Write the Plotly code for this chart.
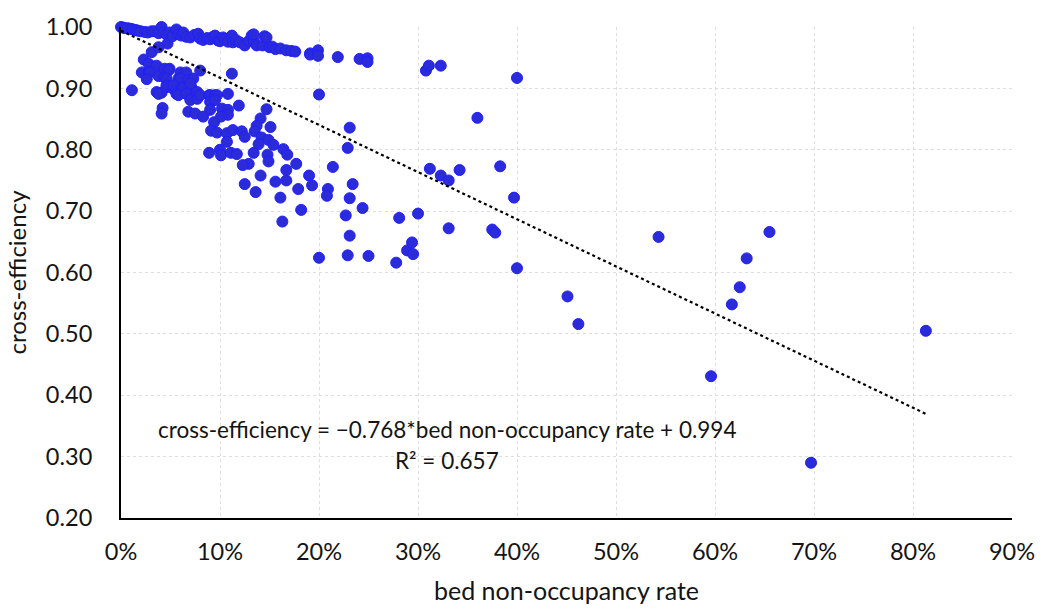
import plotly.graph_objects as go

# bed non-occupancy rate (fraction) and cross-efficiency for each hospital
bed_nonocc = [
    0.000, 0.002, 0.004, 0.007, 0.010, 0.012, 0.015, 0.017, 0.020, 0.024, 0.027, 0.031, 0.034,
    0.038, 0.041, 0.043, 0.046, 0.049, 0.047, 0.052, 0.056, 0.058, 0.061, 0.063, 0.066, 0.070,
    0.074, 0.078, 0.080, 0.083, 0.087, 0.090, 0.093, 0.095, 0.098, 0.100, 0.103, 0.105, 0.108,
    0.112, 0.113, 0.116, 0.120, 0.125, 0.129, 0.132, 0.134, 0.134, 0.137, 0.143, 0.145, 0.147,
    0.150, 0.153, 0.156, 0.161, 0.167, 0.172, 0.176, 0.191, 0.191, 0.199, 0.199, 0.219, 0.241,
    0.249, 0.249, 0.308, 0.311, 0.323, 0.400, 0.031, 0.038,
    0.023, 0.028, 0.036, 0.021, 0.028, 0.029, 0.026, 0.038, 0.044, 0.049, 0.048, 0.044, 0.046,
    0.058, 0.060, 0.066, 0.060, 0.068, 0.073, 0.080, 0.112, 0.046, 0.046, 0.053, 0.053, 0.061,
    0.063, 0.071, 0.070, 0.036, 0.041, 0.038, 0.056, 0.058, 0.066, 0.076, 0.077, 0.070, 0.077,
    0.011, 0.108, 0.080, 0.089, 0.090, 0.095, 0.097, 0.090, 0.095, 0.119, 0.042, 0.041, 0.068,
    0.075, 0.083, 0.090, 0.102, 0.108, 0.108, 0.101, 0.147, 0.094, 0.141, 0.137, 0.151, 0.091,
    0.097, 0.107, 0.113, 0.122, 0.125, 0.135, 0.107, 0.142, 0.149, 0.139, 0.154, 0.164, 0.168,
    0.089, 0.100, 0.101, 0.111, 0.117, 0.134, 0.148, 0.149, 0.129, 0.123, 0.177, 0.214, 0.229,
    0.231, 0.200, 0.167, 0.141, 0.167, 0.156, 0.190, 0.125, 0.136, 0.179, 0.193, 0.209, 0.234,
    0.161, 0.208, 0.231, 0.182, 0.163, 0.200, 0.227, 0.244, 0.281, 0.300, 0.231, 0.229, 0.250,
    0.278, 0.289, 0.294, 0.295, 0.331, 0.375, 0.378, 0.400, 0.451, 0.462, 0.543, 0.596, 0.617,
    0.625, 0.632, 0.655, 0.697, 0.813, 0.360, 0.312, 0.323, 0.331, 0.342, 0.383, 0.397,
]
cross_eff = [
    1.000, 0.999, 0.998, 0.998, 0.997, 0.996, 0.995, 0.994, 0.993, 0.992, 0.991, 0.993, 0.993,
    0.990, 1.000, 0.991, 0.988, 0.991, 0.973, 0.985, 0.996, 0.988, 0.986, 0.991, 0.984, 0.983,
    0.987, 0.989, 0.981, 0.979, 0.982, 0.980, 0.984, 0.986, 0.978, 0.977, 0.983, 0.980, 0.976,
    0.986, 0.975, 0.979, 0.975, 0.970, 0.977, 0.986, 0.978, 0.988, 0.970, 0.970, 0.985, 0.983,
    0.967, 0.968, 0.964, 0.965, 0.962, 0.961, 0.960, 0.957, 0.955, 0.962, 0.953, 0.951, 0.948,
    0.949, 0.943, 0.929, 0.937, 0.937, 0.917, 0.959, 0.967,
    0.947, 0.940, 0.937, 0.926, 0.926, 0.926, 0.915, 0.920, 0.932, 0.932, 0.929, 0.918, 0.916,
    0.916, 0.926, 0.926, 0.916, 0.913, 0.916, 0.929, 0.924, 0.905, 0.902, 0.899, 0.905, 0.900,
    0.901, 0.902, 0.908, 0.894, 0.893, 0.891, 0.891, 0.889, 0.891, 0.893, 0.894, 0.881, 0.883,
    0.897, 0.891, 0.889, 0.889, 0.889, 0.889, 0.889, 0.878, 0.881, 0.872, 0.868, 0.859, 0.862,
    0.859, 0.854, 0.865, 0.867, 0.865, 0.857, 0.854, 0.866, 0.845, 0.851, 0.839, 0.837, 0.831,
    0.828, 0.827, 0.832, 0.830, 0.821, 0.830, 0.813, 0.820, 0.816, 0.809, 0.808, 0.801, 0.792,
    0.795, 0.800, 0.791, 0.795, 0.793, 0.795, 0.792, 0.781, 0.777, 0.775, 0.777, 0.772, 0.803,
    0.836, 0.890, 0.767, 0.758, 0.750, 0.748, 0.758, 0.744, 0.731, 0.736, 0.742, 0.736, 0.744,
    0.722, 0.725, 0.721, 0.702, 0.683, 0.624, 0.693, 0.705, 0.689, 0.696, 0.660, 0.628, 0.627,
    0.616, 0.636, 0.649, 0.630, 0.672, 0.670, 0.665, 0.607, 0.561, 0.516, 0.658, 0.431, 0.548,
    0.576, 0.623, 0.666, 0.290, 0.505, 0.852, 0.769, 0.758, 0.750, 0.767, 0.773, 0.722,
]

# linear fit reported on the chart
slope = -0.768
intercept = 0.994
r_squared = 0.657

x_ticks = [0.0, 0.1, 0.2, 0.3, 0.4, 0.5, 0.6, 0.7, 0.8, 0.9]
x_tick_text = ["0%", "10%", "20%", "30%", "40%", "50%", "60%", "70%", "80%", "90%"]
y_ticks = [0.2, 0.3, 0.4, 0.5, 0.6, 0.7, 0.8, 0.9, 1.0]
y_tick_text = ["0.20", "0.30", "0.40", "0.50", "0.60", "0.70", "0.80", "0.90", "1.00"]

FONT = "Lato, 'Open Sans', sans-serif"
TEXT = "#141414"

fig = go.Figure()

fig.add_trace(go.Scatter(
    x=bed_nonocc, y=cross_eff, mode="markers",
    marker=dict(size=11, color="#2b2bd9", line=dict(color="#1f1fff", width=1)),
    cliponaxis=False, showlegend=False, hoverinfo="x+y",
))

trend_x = [0.0, max(bed_nonocc)]
trend_y = [intercept + slope * v for v in trend_x]
fig.add_trace(go.Scatter(
    x=trend_x, y=trend_y, mode="lines",
    line=dict(color="black", width=2.2, dash="dot"),
    showlegend=False, hoverinfo="skip",
))

fig.add_annotation(
    x=0.329, y=0.345, xref="x", yref="y", showarrow=False,
    text=f"cross-efficiency = \u2212{abs(slope):.3f}*bed non-occupancy rate + {intercept:.3f}",
    font=dict(family=FONT, size=22.5, color=TEXT),
)
fig.add_annotation(
    x=0.329, y=0.293, xref="x", yref="y", showarrow=False,
    text=f"R\u00b2 = {r_squared:.3f}",
    font=dict(family=FONT, size=22.5, color=TEXT),
)

grid = dict(showgrid=True, gridcolor="#dedede", gridwidth=1, griddash="dot")

fig.update_xaxes(
    range=[0, 0.9], tickvals=x_ticks, ticktext=x_tick_text,
    showline=True, linecolor="black", linewidth=2, zeroline=False,
    ticks="", ticklabelstandoff=12,
    tickfont=dict(family=FONT, size=23.5, color=TEXT),
    title=dict(text="bed non-occupancy rate", font=dict(family=FONT, size=25, color=TEXT), standoff=18),
    **grid,
)
fig.update_yaxes(
    range=[0.2, 1.0], tickvals=y_ticks, ticktext=y_tick_text,
    showline=True, linecolor="black", linewidth=2, zeroline=False,
    ticks="", ticklabelstandoff=22,
    tickfont=dict(family=FONT, size=23.5, color=TEXT),
    title=dict(text="cross-efficiency", font=dict(family=FONT, size=24, color=TEXT), standoff=12),
    **grid,
)

fig.update_layout(
    width=1054, height=613,
    margin=dict(l=121, r=42, t=24, b=93),
    paper_bgcolor="white", plot_bgcolor="white",
    font=dict(family=FONT, color=TEXT),
)

fig.write_html("out.html")
